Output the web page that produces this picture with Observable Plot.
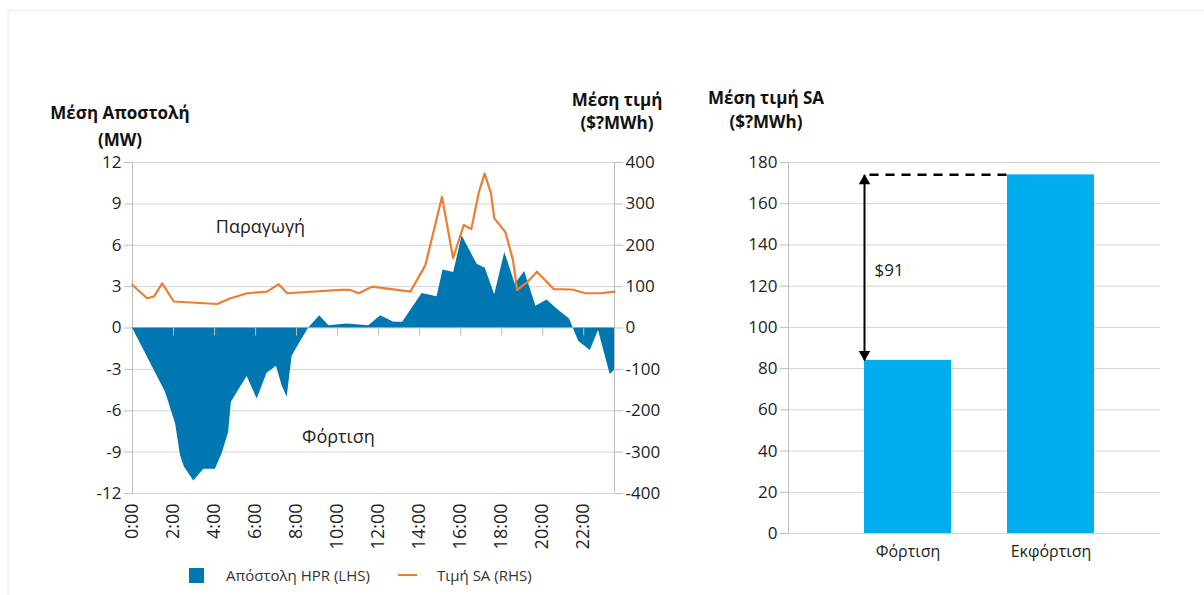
<!DOCTYPE html>
<html>
<head>
<meta charset="utf-8">
<script src="https://cdn.jsdelivr.net/npm/d3@7"></script>
<script src="https://cdn.jsdelivr.net/npm/@observablehq/plot@0.6"></script>
<style>
  body { margin: 0; background: #fff; font-family: "Open Sans", sans-serif; }
  #root { position: relative; width: 1204px; height: 595px; overflow: hidden; background: #fff; }
  .edge-top { position: absolute; left: 7px; top: 9px; right: 0; height: 3px; background: #f6f7f8; }
  .edge-left { position: absolute; left: 7px; top: 9px; bottom: 0; width: 3px; background: #f6f7f8; }
  .title { position: absolute; transform: translateX(-50%); text-align: center; font-weight: 700; font-size: 17px; color: #111; white-space: nowrap; }
  .chart { position: absolute; }
  .legend { position: absolute; left: 189px; top: 565px; display: flex; align-items: center; font-size: 15px; color: #333; }
  .sw-area { width: 15px; height: 15px; background: #0077b0; margin-right: 22px; }
  .sw-line { width: 19px; height: 2.5px; background: #ed7d31; margin-left: 28px; margin-right: 20px; }
</style>
</head>
<body>
<div id="root">
  <div class="edge-top"></div>
  <div class="edge-left"></div>
  <div class="title" style="left:120px; top:99px; line-height:27px;">Μέση Αποστολή<br>(MW)</div>
  <div class="title" style="left:617px; top:88px; line-height:23px;">Μέση τιμή<br>($?MWh)</div>
  <div class="title" style="left:766px; top:86px; line-height:24px;">Μέση τιμή SA<br>($?MWh)</div>
  <div id="left" class="chart" style="left:0; top:140px;"></div>
  <div id="right" class="chart" style="left:700px; top:140px;"></div>
  <div class="legend">
    <div class="sw-area"></div><span>Απόστολη HPR (LHS)</span>
    <div class="sw-line"></div><span>Τιμή SA (RHS)</span>
  </div>
</div>
<script>
// ---------- Data (left chart) ----------
// Dispatch of HPR, hour of day vs MW (LHS)
const dispatchHours = [0, 1.61, 2.10, 2.34, 2.53, 2.99, 3.48, 4.04, 4.37, 4.69,
  4.82, 5.02, 5.59, 6.08, 6.56, 7.02, 7.29, 7.54, 7.78, 7.94,
  8.59, 9.13, 9.57, 10.46, 11.52, 12.10, 12.74, 13.17, 14.12, 14.85,
  15.14, 15.66, 16.07, 16.80, 17.20, 17.66, 18.15, 18.66, 19.12, 19.67,
  20.21, 20.70, 21.31, 21.75, 22.32, 22.72, 23.29, 23.5];
const dispatchMW = [0, -4.65, -6.95, -9.24, -10.08, -11.1, -10.25, -10.25, -9.12, -7.55,
  -5.38, -4.9, -3.52, -5.14, -3.28, -2.77, -4.17, -5.02, -2.07, -1.64,
  0, 0.89, 0.17, 0.29, 0.17, 0.89, 0.41, 0.41, 2.51, 2.27,
  4.2, 4.03, 6.68, 4.63, 4.34, 2.41, 5.48, 3.18, 4.1, 1.57,
  2.03, 1.37, 0.65, -0.96, -1.64, -0.19, -3.38, -3.09];
// SA price, hour of day vs $/MWh (RHS)
const priceHours = [0, 0.71, 1.04, 1.45, 2.01, 4.13, 4.78, 5.59, 6.56, 7.13,
  7.54, 10.14, 10.62, 11.03, 11.68, 13.55, 14.28, 15.09, 15.63, 16.15,
  16.52, 16.88, 17.17, 17.48, 17.64, 18.18, 18.55, 18.75, 19.23, 19.72,
  20.53, 21.43, 22.08, 22.81, 23.5];
const priceSA = [104, 72, 76, 108, 64, 58, 72, 84, 88, 106,
  84, 92, 92, 84, 100, 88, 152, 317, 169, 249,
  239, 327, 373, 325, 265, 232, 164, 92, 110, 136,
  94, 93, 84, 84, 88];
const lhsTicks = [-12, -9, -6, -3, 0, 3, 6, 9, 12];
const rhsTicks = [-400, -300, -200, -100, 0, 100, 200, 300, 400];
const hourTicks = [0, 2, 4, 6, 8, 10, 12, 14, 16, 18, 20, 22];
const hourLabels = ["0:00", "2:00", "4:00", "6:00", "8:00", "10:00", "12:00", "14:00", "16:00", "18:00", "20:00", "22:00"];
const areaNotes = [
  {hour: 6.24, mw: 7.33, text: "Παραγωγή"},
  {hour: 10.04, mw: -7.94, text: "Φόρτιση"}
];

// ---------- Data (right chart) ----------
const modeCats = ["Φόρτιση", "Εκφόρτιση"];
const modePrice = [84, 174];
const spreadLabel = "$91";
const spreadLabelAt = 127.5;
const barTicks = [0, 20, 40, 60, 80, 100, 120, 140, 160, 180];

// ---------- Left chart ----------
const k = 12 / 400; // RHS -> LHS mapping
const dispatch = dispatchHours.map((h, i) => ({h, v: dispatchMW[i]}));
const price = priceHours.map((h, i) => ({h, p: priceSA[i]}));
const gridCol = "#d4d4d4";
const axisCol = "#bdbdbd";

const left = Plot.plot({
  width: 680, height: 415,
  marginLeft: 132, marginRight: 66, marginTop: 22, marginBottom: 62,
  style: {fontFamily: "Open Sans, sans-serif", fontSize: "16px", color: "#222", background: "transparent", overflow: "visible"},
  x: {domain: [0, 23.5]},
  y: {domain: [-12, 12]},
  marks: [
    Plot.gridY({ticks: lhsTicks, stroke: gridCol, strokeOpacity: 1}),
    Plot.ruleX([0, 23.5], {stroke: axisCol}),
    Plot.areaY(dispatch, {x: "h", y: "v", fill: "#0077b0"}),
    Plot.lineY(price, {x: "h", y: d => d.p * k, stroke: "#ed7d31", strokeWidth: 2.2}),
    Plot.ruleX(hourTicks.slice(1), {x: d => d, y1: () => 0, y2: () => 0, insetBottom: -8, stroke: axisCol}),
    Plot.axisY({anchor: "left", ticks: lhsTicks, tickSize: 8, tickPadding: 3, stroke: axisCol, tickFormat: d => String(d), label: null, fontSize: 17}),
    Plot.axisY({anchor: "right", ticks: rhsTicks.map(t => t * k), tickSize: 8, tickPadding: 3, stroke: axisCol, tickFormat: d => String(Math.round(d / k)), label: null, fontSize: 17}),
    Plot.axisX({ticks: hourTicks, tickFormat: d => hourLabels[hourTicks.indexOf(d)], tickRotate: -90, tickSize: 0, tickPadding: 10, label: null, fontSize: 18}),
    Plot.text(areaNotes, {x: "hour", y: "mw", text: "text", fontSize: 18, fill: "#222"})
  ]
});
document.getElementById("left").appendChild(left);

// ---------- Right chart ----------
const bars = modeCats.map((c, i) => ({c, v: modePrice[i]}));
const rightBase = {
  width: 500, height: 433,
  marginLeft: 88, marginRight: 40, marginTop: 22, marginBottom: 40,
  style: {fontFamily: "Open Sans, sans-serif", fontSize: "16px", color: "#222", background: "transparent", overflow: "visible"},
  x: {type: "band", domain: modeCats, paddingInner: 0.395, paddingOuter: 0.4935, align: 0.535},
  y: {domain: [0, 180]}
};
const probe = Plot.plot({...rightBase, marks: [Plot.barY(bars, {x: "c", y: "v"})]});
const bw = probe.scale("x").bandwidth;
const off = -bw / 2;
const lo = modePrice[0], hi = modePrice[1];
const right = Plot.plot({
  ...rightBase,
  marks: [
    Plot.gridY({ticks: barTicks, stroke: gridCol, strokeOpacity: 1}),
    Plot.frame({anchor: "left", stroke: axisCol}),
    Plot.barY(bars, {x: "c", y: "v", fill: "#00adef"}),
    Plot.axisY({ticks: barTicks, tickSize: 8, tickPadding: 3, stroke: axisCol, label: null, fontSize: 17}),
    Plot.axisX({tickSize: 0, tickPadding: 12, label: null, fontSize: 16}),
    Plot.link([{a: modeCats[0], b: modeCats[1], v: hi}], {x1: "a", x2: "b", y1: "v", y2: "v", dx: off + 5, stroke: "#000", strokeWidth: 2.5, strokeDasharray: "9,7"}),
    Plot.link([{a: modeCats[0], y1: lo, y2: hi}], {x1: "a", x2: "a", y1: "y1", y2: "y2", dx: off, stroke: "#000", strokeWidth: 2}),
    Plot.dot([{a: modeCats[0], v: hi, r: 0}], {x: "a", y: "v", symbol: "triangle", r: 4.3, fill: "#000", stroke: null, rotate: "r", dx: off, dy: 6}),
    Plot.dot([{a: modeCats[0], v: lo, r: 180}], {x: "a", y: "v", symbol: "triangle", r: 4.3, fill: "#000", stroke: null, rotate: "r", dx: off, dy: -6}),
    Plot.text([{a: modeCats[0], v: spreadLabelAt}], {x: "a", y: "v", text: () => spreadLabel, dx: off + 10, textAnchor: "start", fontSize: 17, fill: "#222"})
  ]
});
document.getElementById("right").appendChild(right);
</script>
</body>
</html>
